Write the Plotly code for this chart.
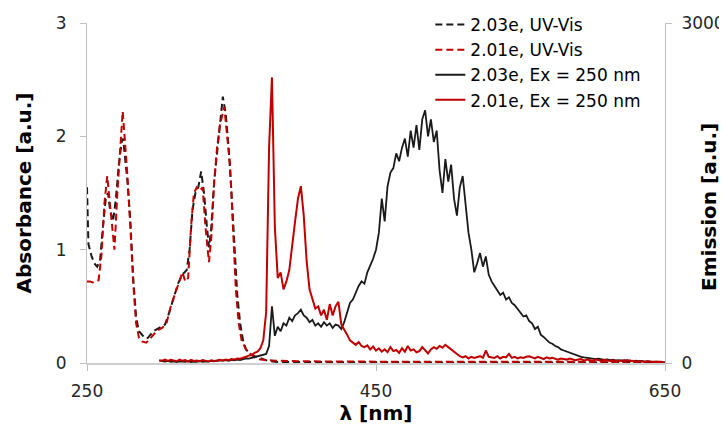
import plotly.graph_objects as go

# ---------------- data ----------------
# UV-Vis absorbance (left axis), wavelength in nm
abs_203_x = [250, 251, 253, 255, 257, 259, 261, 263, 264.5, 266, 268, 270, 272, 274, 275, 276, 278, 280,
             282, 284, 286, 288, 290, 292, 294, 296, 300, 304, 307, 310, 313, 316, 319, 321, 323, 325,
             327, 329, 331, 333, 334.5, 336, 338, 340, 342, 344, 346, 348, 350, 352, 354, 356, 358, 360,
             363, 366, 370, 375, 380, 400, 450, 500, 550, 600, 650]
abs_203_y = [1.55, 1.05, 0.95, 0.88, 0.85, 0.90, 1.20, 1.45, 1.50, 1.35, 1.25, 1.45, 1.75, 1.95, 1.98, 1.85, 1.60, 1.25,
             0.75, 0.40, 0.28, 0.25, 0.22, 0.22, 0.25, 0.28, 0.31, 0.34, 0.45, 0.58, 0.70, 0.78, 0.82, 1.00, 1.35, 1.50,
             1.55, 1.69, 1.50, 1.20, 1.02, 1.20, 1.60, 1.85, 2.10, 2.35, 2.20, 1.90, 1.50, 1.00, 0.60, 0.35, 0.20, 0.12,
             0.08, 0.06, 0.04, 0.02, 0.01, 0.008, 0.006, 0.005, 0.005, 0.004, 0.004]

abs_201_x = [250, 252, 254, 256, 258, 260, 262, 264, 265.5, 267, 269, 271, 273, 274.7, 276, 278, 280, 282,
             284, 286, 288, 291, 294, 298, 302, 305, 308, 311, 314, 316, 318, 320, 322, 324, 326, 328,
             330, 332, 334.4, 336, 338, 340, 342, 344, 345, 347, 349, 351, 353, 355, 357, 360, 363, 366,
             370, 380, 400, 450, 500, 550, 600, 650]
abs_201_y = [0.72, 0.72, 0.71, 0.72, 0.73, 0.95, 1.40, 1.65, 1.45, 1.20, 1.00, 1.50, 1.95, 2.22, 2.00, 1.65, 1.20, 0.70,
             0.35, 0.22, 0.19, 0.18, 0.22, 0.28, 0.31, 0.35, 0.50, 0.62, 0.72, 0.80, 0.72, 0.75, 1.20, 1.50, 1.55, 1.52,
             1.55, 1.20, 0.89, 1.10, 1.60, 1.90, 2.10, 2.20, 2.26, 2.00, 1.75, 1.20, 0.65, 0.35, 0.20, 0.12, 0.08, 0.05,
             0.03, 0.02, 0.015, 0.012, 0.012, 0.01, 0.01, 0.01]

# Emission (right axis), 2 nm sampling from 300 to 650 nm
em_x = list(range(300, 652, 2))
em_203 = [
    20, 15, 12, 18, 10, 14, 8, 15, 12, 10,            # 300-318
    16, 9, 13, 11, 17, 10, 14, 12, 18, 15,            # 320-338
    20, 22, 18, 25, 20, 28, 24, 30, 26, 35,           # 340-358
    40, 38, 45, 50, 55, 60, 70, 80, 150, 500,         # 360-378
    240, 320, 280, 350, 330, 400, 370, 420, 440, 470, # 380-398
    420, 400, 360, 380, 330, 350, 320, 360, 330, 350, # 400-418
    310, 340, 330, 300, 360, 450, 530, 560, 620, 680, # 420-438
    720, 700, 800, 860, 920, 1000, 1150, 1450, 1250, 1560,   # 440-458
    1680, 1720, 1850, 1780, 1900, 1980, 1820, 2050, 1900, 2100,  # 460-478
    1880, 2150, 2230, 2000, 2150, 1950, 2050, 1700, 1500, 1800,  # 480-498
    1600, 1750, 1450, 1300, 1550, 1650, 1400, 1150, 1000, 800,   # 500-518
    880, 970, 850, 940, 780, 720, 680, 640, 600, 620, # 520-538
    560, 580, 530, 510, 480, 440, 410, 420, 370, 350, # 540-558
    300, 320, 250, 230, 200, 180, 170, 150, 140, 120, # 560-578
    110, 100, 90, 80, 75, 60, 55, 50, 45, 42,         # 580-598
    40, 35, 38, 30, 28, 32, 25, 30, 22, 26,           # 600-618
    20, 24, 18, 22, 15, 20, 14, 18, 12, 15,           # 620-638
    10, 12, 8, 10, 6, 5]                              # 640-650
em_201 = [
    25, 20, 30, 18, 28, 22, 15, 30, 20, 25,           # 300-318
    12, 28, 18, 22, 15, 26, 20, 14, 24, 18,           # 320-338
    22, 28, 20, 30, 25, 35, 30, 40, 38, 50,           # 340-358
    55, 65, 70, 90, 100, 130, 200, 450, 1900, 2520,   # 360-378
    1200, 750, 800, 650, 720, 820, 1050, 1250, 1450, 1560,  # 380-398
    1300, 900, 650, 560, 480, 500, 420, 470, 380, 520,      # 400-418
    420, 500, 540, 340, 300, 250, 200, 180, 160, 185, # 420-438
    150, 140, 155, 120, 145, 110, 130, 100, 120, 95,  # 440-458
    140, 105, 115, 90, 130, 100, 150, 110, 120, 95,   # 460-478
    105, 140, 110, 85, 120, 140, 125, 150, 135, 160,  # 480-498
    140, 120, 100, 75, 60, 50, 60, 40, 55, 45,        # 500-518
    50, 60, 45, 110, 55, 50, 45, 60, 40, 55,          # 520-538
    50, 80, 45, 55, 40, 50, 45, 55, 60, 50,           # 540-558
    40, 55, 45, 35, 50, 40, 45, 35, 30, 40,           # 560-578
    35, 30, 40, 35, 25, 30, 35, 20, 30, 25,           # 580-598
    20, 30, 25, 20, 28, 22, 18, 25, 20, 15,           # 600-618
    22, 18, 25, 15, 20, 12, 18, 14, 10, 16,           # 620-638
    12, 8, 12, 10, 6, 5]                              # 640-650

x_ticks = [250, 450, 650]
y1_ticks = [0, 1, 2, 3]
y2_ticks = [0, 3000]

# ---------------- figure ----------------
BLACK = "#1a1a1a"
RED = "#c00000"
FONT = "DejaVu Sans"

fig = go.Figure()
fig.add_trace(go.Scatter(x=abs_203_x, y=abs_203_y, mode="lines", name="2.03e, UV-Vis",
                         line=dict(color=BLACK, width=2, dash="7px,4px"), legendgroup="a"))
fig.add_trace(go.Scatter(x=abs_201_x, y=abs_201_y, mode="lines", name="2.01e, UV-Vis",
                         line=dict(color=RED, width=2, dash="7px,4px"), legendgroup="b"))
fig.add_trace(go.Scatter(x=em_x, y=em_203, mode="lines", name="2.03e, Ex = 250 nm",
                         line=dict(color=BLACK, width=1.8), yaxis="y2", legendgroup="c"))
fig.add_trace(go.Scatter(x=em_x, y=em_201, mode="lines", name="2.01e, Ex = 250 nm",
                         line=dict(color=RED, width=2), yaxis="y2", legendgroup="d"))

tick_font = dict(family=FONT, size=17, color="#262626")
title_font = dict(family=FONT + " Bold, " + FONT, size=20, color="#000000")

# the page body adds an 8 px offset, so the figure is 8 px smaller than the window
fig.update_layout(
    width=719, height=424,
    margin=dict(l=79, r=62, t=15, b=69, autoexpand=False),
    paper_bgcolor="white", plot_bgcolor="white",
    font=dict(family=FONT, size=17, color="#000"),
    showlegend=True,
    legend=dict(x=0.594, y=1.047, xanchor="left", yanchor="top",
                bgcolor="rgba(0,0,0,0)", font=dict(family=FONT, size=17, color="#000"),
                tracegroupgap=0, traceorder="normal"),
    xaxis=dict(range=[250, 650], tickvals=x_ticks, ticks="outside", ticklen=6,
               tickcolor="#bfbfbf", showline=True, linecolor="#d0d0d0", linewidth=2,
               showgrid=False, zeroline=False, tickfont=tick_font, ticklabelstandoff=6,
               automargin=False,
               title=dict(text="<b>λ [nm]</b>", font=title_font, standoff=2)),
    yaxis=dict(range=[0, 3], tickvals=y1_ticks, ticks="outside", ticklen=6,
               tickcolor="#bfbfbf", showline=True, linecolor="#bfbfbf", linewidth=1,
               showgrid=False, zeroline=False, tickfont=tick_font, ticklabelstandoff=10,
               automargin=False,
               title=dict(text="<b>Absorbance [a.u.]</b>", font=title_font, standoff=18)),
    yaxis2=dict(range=[0, 3000], tickvals=y2_ticks, ticks="outside", ticklen=6,
                tickcolor="#bfbfbf", showline=True, linecolor="#bfbfbf", linewidth=1,
                showgrid=False, zeroline=False, tickfont=tick_font, ticklabelstandoff=6,
                automargin=False, overlaying="y", side="right"),
    annotations=[dict(text="<b>Emission [a.u.]</b>", xref="paper", yref="paper",
                      x=(701 - 79) / 578, y=0.459, textangle=-90, showarrow=False,
                      font=title_font, xanchor="center", yanchor="middle")],
)

fig.write_html("out.html")
